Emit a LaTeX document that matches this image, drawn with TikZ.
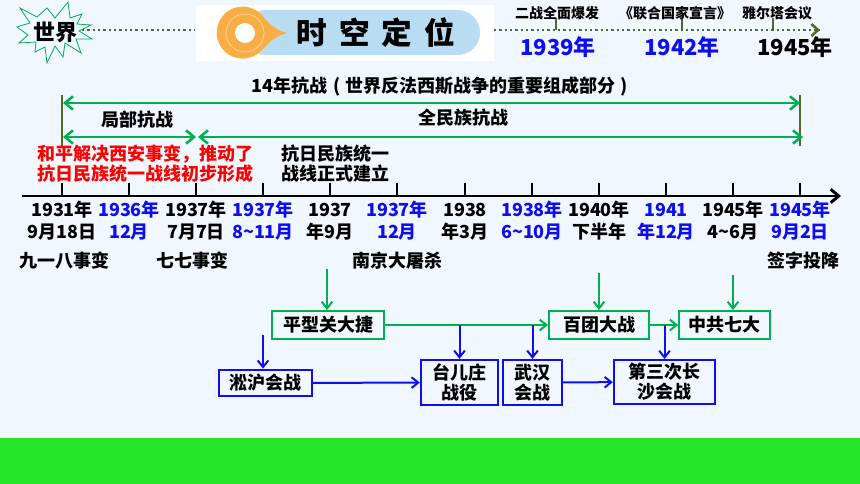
\documentclass[tikz,border=0pt]{standalone}
\usepackage{fontspec}
\setmainfont{Noto Sans CJK SC}
\usetikzlibrary{arrows.meta}

\definecolor{pagebg}{HTML}{F0F7FF}
\definecolor{linegreen}{HTML}{00B050}
\definecolor{dotgreen}{HTML}{4F6B2A}
\definecolor{dateblue}{HTML}{0E0EEE}
\definecolor{barbgreen}{HTML}{27E62A}
\definecolor{pillblue}{HTML}{B8DCF2}
\definecolor{pinorange}{HTML}{F9AE45}

\newcommand{\til}{\char"7E\relax}

\tikzset{
  label text/.style={font=\bfseries\fontsize{13.5}{15}\selectfont,inner sep=0pt,align=center},
  small text/.style={font=\bfseries\fontsize{10.5}{12}\selectfont,inner sep=0pt},
  year text/.style={font=\bfseries\fontsize{16.5}{18}\selectfont,inner sep=0pt},
  green box/.style={draw=linegreen,line width=1.5pt,minimum height=21pt,inner sep=0pt,
    label text},
  blue box/.style={draw=dateblue,line width=1.5pt,inner sep=0pt,label text},
  green arrow/.style={draw=linegreen,line width=1.5pt,-{Straight Barb[length=5pt,width=8pt]}},
  blue arrow/.style={draw=dateblue,line width=1.5pt,-{Straight Barb[length=5pt,width=8pt]}},
  span arrow/.style={draw=linegreen,line width=1.9pt,
    {Straight Barb[length=6pt,width=10pt]}-{Straight Barb[length=6pt,width=10pt]}},
  world dots/.style={dotgreen,line width=1.9pt,dash pattern=on 1.7pt off 2.3pt},
}

\begin{document}
\begin{tikzpicture}[x=0.75pt,y=-0.75pt]
  \useasboundingbox (0,0) rectangle (860,484);
  \fill [pagebg] (0,0) rectangle (860,484);
  \fill [barbgreen] (0,438) rectangle (860,484);

  % world line
  \coordinate (w0) at (82,30);
  \coordinate (w1) at (195,30);
  \coordinate (w2) at (494,30);
  \coordinate (w3) at (820,30);
  \draw [world dots] (w0) -- (w1);
  \draw [world dots] (w2) -- (w3);
  \draw [dotgreen,line width=1.9pt,-{Straight Barb[length=5pt,width=9pt]}] (815,30) -- (w3);

  \draw [linegreen,line width=0.6pt,fill=pagebg] (20,8) -- (37,17) -- (47,8) -- (55,18)
    -- (68,2) -- (70,18) -- (82,14) -- (77,24) -- (91,25) -- (79,31) -- (92,39) -- (76,39)
    -- (81,53) -- (65,43) -- (63,57) -- (55,46) -- (47,63) -- (45,47) -- (35,52) -- (36,42)
    -- (19,43) -- (28,35) -- (17,27) -- (30,23) -- cycle;
  \node [font=\bfseries\fontsize{16.5}{18}\selectfont,inner sep=0pt] (world) at (55,32) {世界};

  % title
  \fill [white] (196,5) rectangle (494,61);
  \fill [pillblue,rounded corners=16.8pt] (243,10) rectangle (480,55);
  \fill [pinorange] (287,33) .. controls (275,36) and (268,43) .. (262,50)
    arc [start angle=42,end angle=318,radius=26] .. controls (268,23) and (275,30) .. (287,33);
  \draw [white,opacity=0.5,line width=0.5pt] (245,33) circle [radius=19];
  \fill [white] (245,33) circle [radius=10];
  \node [font=\bfseries\fontsize{23}{25}\selectfont,inner sep=0pt] (title) at (376,33)
    {时\hspace{9pt}空\hspace{9pt}定\hspace{9pt}位};

  \foreach \wx/\wname/\wtext/\wlab in {556/ww/二战全面爆发/557,682/dec/《联合国家宣言》/675,773/yal/雅尔塔会议/777} {
    \draw [dotgreen,line width=1.5pt] (\wx,18) -- (\wx,30);
    \node [small text] (\wname) at (\wlab,13) {\wtext};
  }
  \node [year text,text=dateblue] (y39) at (558,47) {1939年};
  \node [year text,text=dateblue] (y42) at (682,47) {1942年};
  \node [year text] (y45) at (795,47) {1945年};

  % spans
  \coordinate (s0) at (62,95);
  \coordinate (s1) at (62,146);
  \coordinate (e0) at (800,95);
  \coordinate (e1) at (800,146);
  \draw [dotgreen,line width=1.5pt] (s0) -- (s1);
  \draw [dotgreen,line width=1.5pt] (e0) -- (e1);

  \coordinate (a0) at (63,103);
  \coordinate (a1) at (800,103);
  \coordinate (b0) at (63,137);
  \coordinate (b1) at (196,137);
  \coordinate (c0) at (198,137);
  \coordinate (c1) at (803,137);
  \draw [span arrow] (a0) -- (a1);
  \draw [span arrow] (b0) -- (b1);
  \draw [span arrow] (c0) -- (c1);

  \node [label text] (whole) at (440,87)
    {14年抗战\hspace{4pt}(\hspace{4pt}世界反法西斯战争的重要组成部分\hspace{4pt})};
  \node [label text] (part) at (137,120) {局部抗战};
  \node [label text] (nation) at (463,118) {全民族抗战};

  \node [label text,text=red] (xian1) at (145,154) {和平解决西安事变，推动了};
  \node [label text,text=red] (xian2) at (145,174) {抗日民族统一战线初步形成};
  \node [label text] (front1) at (335,154) {抗日民族统一};
  \node [label text] (front2) at (335,174) {战线正式建立};

  % time axis
  \coordinate (t0) at (22,196);
  \coordinate (t1) at (841,196);
  \draw [line width=2.2pt,-{Straight Barb[length=6pt,width=10pt]}] (t0) -- (t1);

  \foreach \tx/\tone/\ttwo/\tcol in {
    62/1931年/9月18日/black,
    129/1936年/12月/dateblue,
    196/1937年/7月7日/black,
    263/1937年/8\til11月/dateblue,
    330/1937/年9月/black,
    397/1937年/12月/dateblue,
    465/1938/年3月/black,
    532/1938年/6\til10月/dateblue,
    599/1940年/下半年/black,
    666/1941/年12月/dateblue,
    733/1945年/4\til6月/black,
    800/1945年/9月2日/dateblue} {
    \draw [line width=1.5pt] (\tx,183) -- (\tx,196);
    \node [label text,text=\tcol] (d\tx) at (\tx,210) {\tone};
    \node [label text,text=\tcol] (m\tx) at (\tx,232) {\ttwo};
  }

  \node [label text] (ev1) at (64,261) {九一八事变};
  \node [label text] (ev2) at (192,261) {七七事变};
  \node [label text] (ev3) at (397,261) {南京大屠杀};
  \node [label text] (ev4) at (803,261) {签字投降};

  % battles
  \node [green box,minimum width=84pt] (pingxing) at (328,325) {平型关大捷};
  \node [green box,minimum width=75pt] (baituan) at (599,325) {百团大战};
  \node [green box,minimum width=68pt] (qida) at (724.5,325) {中共七大};
  \node [blue box,minimum width=70pt,minimum height=20pt] (songhu) at (265.5,383) {淞沪会战};
  \node [blue box,minimum width=58pt,minimum height=34pt] (taier) at (459.5,382.5) {台儿庄\\战役};
  \node [blue box,minimum width=44pt,minimum height=34pt] (wuhan) at (532.5,382.5) {武汉\\会战};
  \node [blue box,minimum width=76pt,minimum height=33pt] (changsha) at (664.5,382) {第三次长\\沙会战};

  \coordinate (pin1) at (327,269);
  \coordinate (pin2) at (599,273);
  \coordinate (pin3) at (733,275);
  \coordinate (pin4) at (263,335);
  \draw [green arrow] (pin1) -- (pin1 |- pingxing.north);
  \draw [green arrow] (pin2) -- (pin2 |- baituan.north);
  \draw [green arrow] (pin3) -- (pin3 |- qida.north);
  \draw [green arrow] (pingxing) -- (baituan);
  \draw [green arrow] (baituan) -- (qida);

  \coordinate (fork1) at (pingxing -| taier.north);
  \coordinate (fork2) at (pingxing -| wuhan.north);
  \coordinate (fork3) at (baituan -| changsha.north);
  \draw [blue arrow] (fork1) -- (taier.north);
  \draw [blue arrow] (fork2) -- (wuhan.north);
  \draw [blue arrow] (fork3) -- (changsha.north);
  \draw [blue arrow] (pin4) -- (pin4 |- songhu.north);
  \draw [blue arrow] (songhu) -- (taier);
  \draw [blue arrow] (wuhan) -- (changsha);
\end{tikzpicture}
\end{document}
